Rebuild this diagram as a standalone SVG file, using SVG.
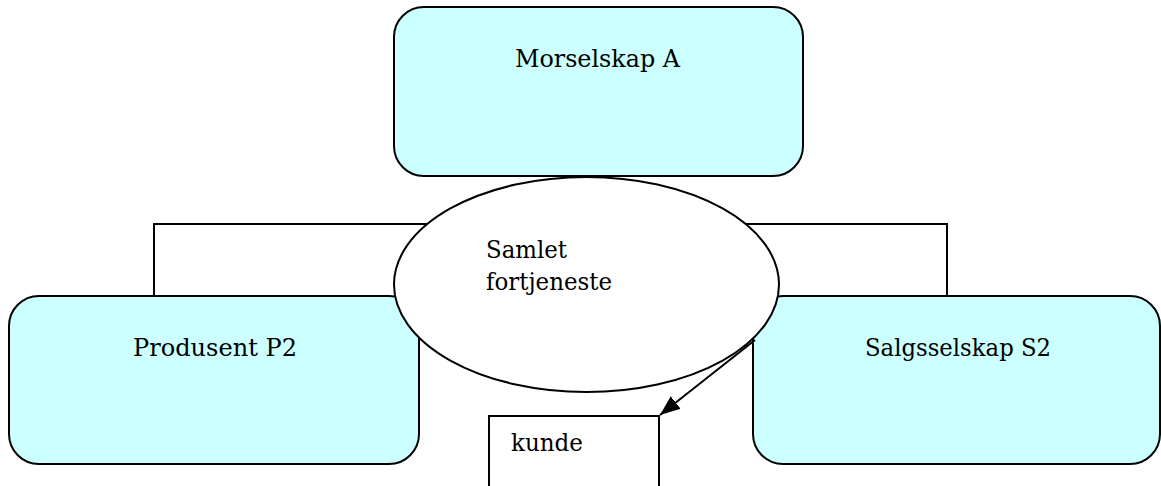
<svg xmlns="http://www.w3.org/2000/svg" width="1161" height="486" viewBox="0 0 1161 486">
  <style>
    .box { fill: #ccffff; stroke: #000; stroke-width: 2; }
    .plain { fill: #fff; stroke: #000; stroke-width: 2; }
    .wire { fill: none; stroke: #000; stroke-width: 2; }
    .lbl { font-family: "DejaVu Serif", serif; font-size: 24px; fill: #000; }
  </style>
  <defs>
    <marker id="arrowhead" viewBox="0 0 20 16" refX="20" refY="8" markerWidth="20" markerHeight="16" markerUnits="userSpaceOnUse" orient="auto">
      <path d="M0,0 L20,8 L0,16 Z" fill="#000"/>
    </marker>
  </defs>
  <rect width="1161" height="486" fill="#fff"/>

  <g id="morselskap">
    <rect class="box" x="394" y="7" width="409" height="169" rx="30" ry="30"/>
    <text class="lbl" x="515" y="67" textLength="165" lengthAdjust="spacingAndGlyphs">Morselskap A</text>
  </g>

  <g id="produsent">
    <rect class="box" x="9" y="296" width="410" height="168" rx="30" ry="30"/>
    <text class="lbl" x="133" y="356" textLength="164" lengthAdjust="spacingAndGlyphs">Produsent P2</text>
  </g>

  <g id="salgsselskap">
    <rect class="box" x="753" y="296" width="407" height="168" rx="30" ry="30"/>
    <text class="lbl" x="865" y="356" textLength="186" lengthAdjust="spacingAndGlyphs">Salgsselskap S2</text>
  </g>

  <g id="kunde">
    <rect class="plain" x="489" y="416" width="170" height="90"/>
    <text class="lbl" x="511" y="451" textLength="72" lengthAdjust="spacingAndGlyphs">kunde</text>
  </g>

  <g id="fortjeneste">
    <ellipse class="plain" cx="586.5" cy="284.5" rx="192.5" ry="107.5"/>
    <text class="lbl" x="486" y="258" textLength="81" lengthAdjust="spacingAndGlyphs">Samlet</text>
    <text class="lbl" x="486" y="290" textLength="126" lengthAdjust="spacingAndGlyphs">fortjeneste</text>
  </g>

  <g id="connectors">
    <path class="wire" d="M154,296 V224 H427.5"/>
    <path class="wire" d="M947,296 V224 H745.5"/>
    <line class="wire" x1="755" y1="340" x2="660" y2="415" marker-end="url(#arrowhead)"/>
  </g>
</svg>
